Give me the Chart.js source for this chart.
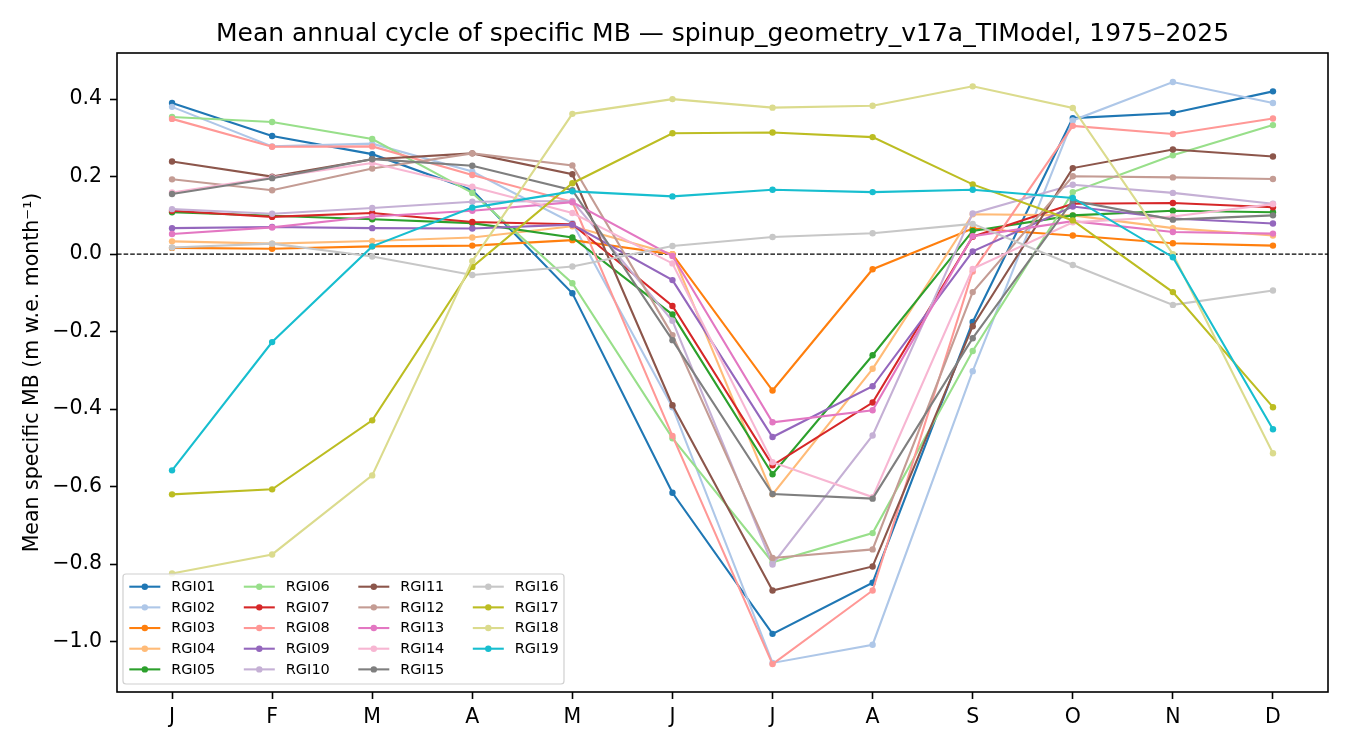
<!DOCTYPE html>
<html>
<head>
<meta charset="utf-8">
<script src="https://cdn.jsdelivr.net/npm/chart.js@4.4.1/dist/chart.umd.min.js"></script>
<style>
  body { margin: 0; background: #fff; }
  #wrap { width: 1350px; height: 750px; }
</style>
</head>
<body>
<div id="wrap"><canvas id="mbChart" width="1350" height="750"></canvas></div>
<script>
//! data
const months = ['J', 'F', 'M', 'A', 'M', 'J', 'J', 'A', 'S', 'O', 'N', 'D'];
const yTicks = [-1.0, -0.8, -0.6, -0.4, -0.2, 0.0, 0.2, 0.4];
const regions = ['RGI01', 'RGI02', 'RGI03', 'RGI04', 'RGI05', 'RGI06', 'RGI07', 'RGI08', 'RGI09', 'RGI10',
                 'RGI11', 'RGI12', 'RGI13', 'RGI14', 'RGI15', 'RGI16', 'RGI17', 'RGI18', 'RGI19'];

const rgi01 = [0.390, 0.305, 0.258, 0.165, -0.101, -0.616, -0.980, -0.848, -0.175, 0.351, 0.364, 0.420];
const rgi02 = [0.380, 0.278, 0.285, 0.213, 0.080, -0.395, -1.055, -1.008, -0.302, 0.345, 0.444, 0.390];
const rgi03 = [0.016, 0.014, 0.020, 0.022, 0.036, 0.000, -0.352, -0.039, 0.066, 0.048, 0.028, 0.022];
const rgi04 = [0.033, 0.027, 0.034, 0.043, 0.072, 0.000, -0.620, -0.296, 0.103, 0.100, 0.067, 0.048];
const rgi05 = [0.108, 0.099, 0.090, 0.080, 0.043, -0.156, -0.568, -0.261, 0.060, 0.100, 0.112, 0.108];
const rgi06 = [0.354, 0.341, 0.297, 0.158, -0.075, -0.475, -0.795, -0.720, -0.250, 0.160, 0.255, 0.333];
const rgi07 = [0.112, 0.096, 0.106, 0.083, 0.077, -0.134, -0.545, -0.383, 0.045, 0.130, 0.132, 0.121];
const rgi08 = [0.349, 0.277, 0.278, 0.204, 0.135, -0.469, -1.058, -0.868, -0.045, 0.331, 0.310, 0.350];
const rgi09 = [0.067, 0.070, 0.067, 0.066, 0.076, -0.067, -0.472, -0.341, 0.007, 0.123, 0.092, 0.079];
const rgi10 = [0.116, 0.104, 0.119, 0.135, 0.137, -0.172, -0.801, -0.468, 0.105, 0.179, 0.158, 0.130];
const rgi11 = [0.239, 0.200, 0.245, 0.260, 0.206, -0.390, -0.868, -0.806, -0.186, 0.222, 0.270, 0.252];
const rgi12 = [0.193, 0.165, 0.221, 0.260, 0.229, -0.209, -0.784, -0.762, -0.098, 0.201, 0.198, 0.194];
const rgi13 = [0.052, 0.069, 0.097, 0.112, 0.134, -0.005, -0.434, -0.403, 0.046, 0.085, 0.057, 0.053];
const rgi14 = [0.159, 0.198, 0.235, 0.174, 0.106, -0.024, -0.537, -0.627, -0.038, 0.082, 0.097, 0.129];
const rgi15 = [0.155, 0.196, 0.245, 0.228, 0.165, -0.222, -0.619, -0.631, -0.217, 0.138, 0.089, 0.100];
const rgi16 = [0.017, 0.027, -0.006, -0.054, -0.032, 0.021, 0.044, 0.054, 0.078, -0.028, -0.131, -0.094];
const rgi17 = [-0.620, -0.607, -0.429, -0.033, 0.183, 0.312, 0.314, 0.302, 0.180, 0.087, -0.098, -0.395];
const rgi18 = [-0.824, -0.775, -0.571, -0.018, 0.362, 0.400, 0.378, 0.383, 0.433, 0.377, 0.000, -0.514];
const rgi19 = [-0.558, -0.227, 0.020, 0.120, 0.162, 0.149, 0.166, 0.160, 0.166, 0.145, -0.008, -0.452];

const series = [rgi01, rgi02, rgi03, rgi04, rgi05, rgi06, rgi07, rgi08, rgi09, rgi10,
                rgi11, rgi12, rgi13, rgi14, rgi15, rgi16, rgi17, rgi18, rgi19];

// tab20 colours
const colors = ['#1f77b4', '#aec7e8', '#ff7f0e', '#ffbb78', '#2ca02c', '#98df8a', '#d62728', '#ff9896',
                '#9467bd', '#c5b0d5', '#8c564b', '#c49c94', '#e377c2', '#f7b6d2', '#7f7f7f', '#c7c7c7',
                '#bcbd22', '#dbdb8d', '#17becf'];

const FONT = "'DejaVu Sans', sans-serif";

//! title, y label, frame, zero line, legend
const decorPlugin = {
    id: 'decor',
    beforeDatasetsDraw(chart) {
        const { ctx, chartArea: a, scales } = chart;
        const y0 = scales.y.getPixelForValue(0);
        ctx.save();
        ctx.strokeStyle = '#000';
        ctx.lineWidth = 1.1;
        ctx.setLineDash([4.6, 2]);
        ctx.beginPath();
        ctx.moveTo(a.left, y0);
        ctx.lineTo(a.right, y0);
        ctx.stroke();
        ctx.restore();
    },
    afterDraw(chart) {
        const { ctx, chartArea: a } = chart;
        ctx.save();
        // frame
        ctx.strokeStyle = '#000';
        ctx.lineWidth = 1.6;
        ctx.strokeRect(a.left, a.top, a.right - a.left, a.bottom - a.top);

        // title
        ctx.fillStyle = '#000';
        ctx.font = `25px ${FONT}`;
        ctx.textAlign = 'center';
        ctx.textBaseline = 'alphabetic';
        ctx.fillText('Mean annual cycle of specific MB — spinup_geometry_v17a_TIModel, 1975–2025',
            (a.left + a.right) / 2, 40.5);

        // y label
        ctx.save();
        ctx.translate(33, (a.top + a.bottom) / 2);
        ctx.rotate(-Math.PI / 2);
        ctx.font = `20.5px ${FONT}`;
        ctx.textBaseline = 'middle';
        ctx.fillText('Mean specific MB (m w.e. month⁻¹)', 0, 0);
        ctx.restore();

        // legend (4 columns, column-major like matplotlib)
        const lx = a.left + 6, ly = 574, lw = 441, lh = 110;
        ctx.beginPath();
        ctx.roundRect(lx, ly, lw, lh, 3);
        ctx.fillStyle = 'rgba(255,255,255,0.8)';
        ctx.fill();
        ctx.strokeStyle = '#d0d0d0';
        ctx.lineWidth = 1.2;
        ctx.stroke();

        ctx.font = `14.5px ${FONT}`;
        ctx.textAlign = 'left';
        ctx.textBaseline = 'middle';
        chart.data.datasets.forEach((ds, i) => {
            const col = Math.floor(i / 5), row = i % 5;
            const hx = a.left + 12.3 + col * 114.5;
            const hy = ly + 12.7 + row * 20.67;
            ctx.strokeStyle = ds.borderColor;
            ctx.lineWidth = 2.1;
            ctx.beginPath();
            ctx.moveTo(hx, hy);
            ctx.lineTo(hx + 31, hy);
            ctx.stroke();
            ctx.fillStyle = ds.borderColor;
            ctx.beginPath();
            ctx.arc(hx + 15.5, hy, 3.2, 0, Math.PI * 2);
            ctx.fill();
            ctx.fillStyle = '#000';
            ctx.fillText(ds.label, hx + 42, hy + 0.5);
        });
        ctx.restore();
    }
};

const ctx = document.getElementById('mbChart');

const mbChart = new Chart(ctx, {
    type: 'line',
    data: {
        datasets: regions.map((name, i) => ({
            label: name,
            data: series[i].map((v, m) => ({ x: m, y: v })),
            borderColor: colors[i],
            backgroundColor: colors[i],
            borderWidth: 2.1,
            pointRadius: 3.2,
            pointBorderWidth: 0,
            pointHoverRadius: 3.2,
            tension: 0,
            order: regions.length - i,
        }))
    },
    options: {
        responsive: false,
        animation: false,
        events: [],
        layout: {
            padding: { top: 53, right: 22, left: 0, bottom: 0 }
        },
        plugins: {
            legend: { display: false },
            title: { display: false },
            tooltip: { enabled: false }
        },
        scales: {
            x: {
                type: 'linear',
                min: -0.55,
                max: 11.55,
                afterBuildTicks: (scale) => {
                    scale.ticks = months.map((m, i) => ({ value: i }));
                },
                afterFit: (scale) => { scale.height = 58; },
                grid: {
                    drawOnChartArea: false,
                    drawTicks: true,
                    tickLength: 7,
                    tickWidth: 1.6,
                    tickColor: '#000'
                },
                border: { display: false },
                ticks: {
                    color: '#000',
                    font: { family: FONT, size: 20.5 },
                    padding: 6,
                    maxRotation: 0,
                    autoSkip: false,
                    callback: (v) => months[v]
                }
            },
            y: {
                min: -1.13,
                max: 0.519,
                afterBuildTicks: (scale) => {
                    scale.ticks = yTicks.map((v) => ({ value: v }));
                },
                afterFit: (scale) => { scale.width = 117; },
                grid: {
                    drawOnChartArea: false,
                    drawTicks: true,
                    tickLength: 7,
                    tickWidth: 1.6,
                    tickColor: '#000'
                },
                border: { display: false },
                ticks: {
                    color: '#000',
                    font: { family: FONT, size: 20.5 },
                    padding: 8,
                    callback: (v) => {
                        const s = (Math.abs(v) < 1e-9 ? 0 : v).toFixed(1);
                        return s.replace('-', '−');
                    }
                }
            }
        }
    },
    plugins: [decorPlugin]
});
</script>
</body>
</html>
